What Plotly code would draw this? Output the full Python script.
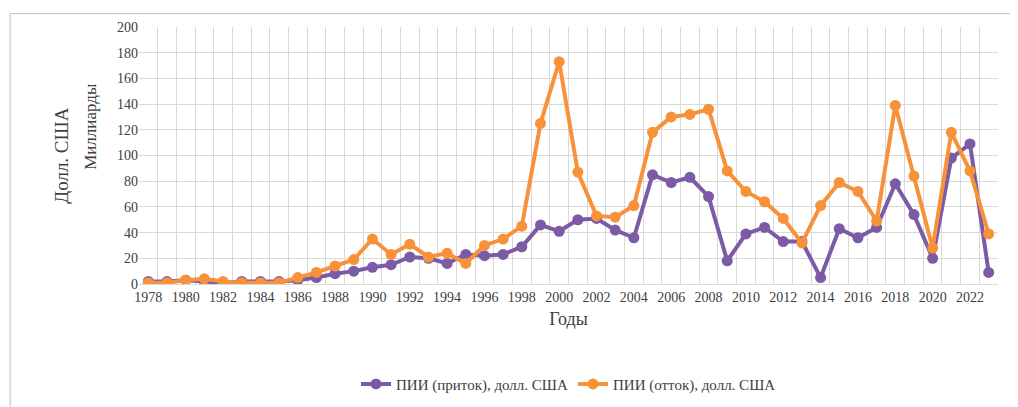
import plotly.graph_objects as go

years = list(range(1978, 2024))
inflow = [2, 2, 3, 2, 1, 2, 2, 2, 3, 5, 8, 10, 13, 15, 21, 20, 16, 23, 22, 23, 29, 46,
          41, 50, 51, 42, 36, 85, 79, 83, 68, 18, 39, 44, 33, 33, 5, 43, 36, 44, 78, 54,
          20, 98, 109, 9]
outflow = [1, 1, 3, 4, 2, 1, 1, 1, 5, 9, 14, 19, 35, 23, 31, 21, 24, 16, 30, 35, 45, 125,
           173, 87, 53, 52, 61, 118, 130, 132, 136, 88, 72, 64, 51, 32, 61, 79, 72, 49, 139, 84,
           28, 118, 88, 39]

font = dict(family="Liberation Serif", color="#404040")
fig = go.Figure()
fig.add_trace(go.Scatter(x=years, y=inflow, mode="lines+markers", name="ПИИ (приток), долл. США",
                         line=dict(color="#7B5BA6", width=4), marker=dict(size=11)))
fig.add_trace(go.Scatter(x=years, y=outflow, mode="lines+markers", name="ПИИ (отток), долл. США",
                         line=dict(color="#F7923A", width=4), marker=dict(size=11)))

fig.update_layout(
    width=1018, height=407, paper_bgcolor="white", plot_bgcolor="white",
    font=dict(size=14, **font),
    margin=dict(l=131, r=28, t=16, b=131),
    legend=dict(orientation="h", x=0.5, xanchor="center", y=-0.39, yanchor="middle",
                font=dict(size=15, **font)),
    xaxis=dict(range=[1977.5, 2023.5], tickvals=years[::2], showgrid=False,
               minor=dict(tick0=1977.5, dtick=1, showgrid=True, gridcolor="#d9d9d9"),
               showline=True, linecolor="#d9d9d9",
               title=dict(text="Годы", font=dict(size=18, **font), standoff=8)),
    yaxis=dict(range=[0, 200], dtick=20, gridcolor="#d9d9d9", zeroline=False, showline=False),
    annotations=[
        dict(text="Долл. США", xref="paper", yref="paper", x=-0.105, y=0.5, textangle=-90,
             showarrow=False, font=dict(size=19, **font)),
        dict(text="Миллиарды", xref="paper", yref="paper", x=-0.07, y=0.79, textangle=-90,
             showarrow=False, font=dict(size=17, **font)),
    ],
    shapes=[dict(type="rect", xref="paper", yref="paper", x0=-0.150, x1=1.026, y0=-0.49, y1=1.052,
                 line=dict(color="#bfbfbf", width=1))],
)
fig.write_html("out.html")
